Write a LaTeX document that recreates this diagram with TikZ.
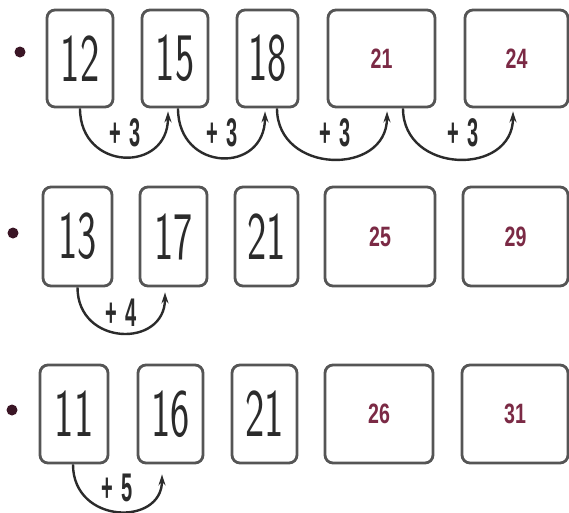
\documentclass[tikz,border=0pt]{standalone}
\usepackage{fontspec}
\newfontfamily\arial{Liberation Sans}
\usetikzlibrary{arrows.meta}
\definecolor{boxgray}{HTML}{555555}
\definecolor{ink}{HTML}{2B2B2B}
\definecolor{ansred}{HTML}{7B2A45}
\definecolor{dotc}{HTML}{3A1525}
\tikzset{
  box/.style={draw=boxgray, line width=2.8pt, rounded corners=8pt, inner sep=0pt, fill=white},
  hand/.style={font=\fontsize{68}{68}\selectfont\sffamily, text=ink},
  ans/.style={font=\fontsize{28}{28}\selectfont\arial\bfseries, text=ansred},
  hop/.style={-{Stealth[length=11pt,width=7pt]}, line width=2.4pt, draw=ink},
  hoplab/.style={font=\fontsize{40}{40}\selectfont\arial\bfseries, text=ink},
  bullet/.style={circle, fill=dotc, minimum size=11pt, inner sep=0pt}
}
\newcommand{\hw}[1]{\scalebox{0.6}[1]{#1}}
\newcommand{\aw}[1]{\scalebox{0.7}[1]{#1}}
\newcommand{\lw}[1]{\scalebox{0.5}[1]{#1}}
\begin{document}
\begin{tikzpicture}[x=1pt,y=-1pt]
\useasboundingbox[fill=white] (0,0) rectangle (569,512);
% bullets
\node[bullet] (d1) at (20,52) {};
\node[bullet] (d2) at (13,233) {};
\node[bullet] (d3) at (12,410) {};
% row 1
\node[box, hand, minimum width=66pt, minimum height=97pt] (a1) at (80,58.5) {\hw{12}};
\node[box, hand, minimum width=66pt, minimum height=97pt] (a2) at (175,58.5) {\hw{15}};
\node[box, hand, minimum width=61pt, minimum height=97pt] (a3) at (267.5,58.5) {\hw{18}};
\node[box, ans, minimum width=107pt, minimum height=97pt] (a4) at (381.5,58.5) {\aw{21}};
\node[box, ans, minimum width=103pt, minimum height=97pt] (a5) at (516.5,58.5) {\aw{24}};
% row 2
\node[box, hand, minimum width=69pt, minimum height=99pt] (b1) at (77.5,236.5) {\hw{13}};
\node[box, hand, minimum width=67pt, minimum height=99pt] (b2) at (173.5,236.5) {\hw{17}};
\node[box, hand, minimum width=63pt, minimum height=99pt] (b3) at (266.5,236.5) {\hw{21}};
\node[box, ans, minimum width=110pt, minimum height=99pt] (b4) at (380,236.5) {\aw{25}};
\node[box, ans, minimum width=105pt, minimum height=99pt] (b5) at (515.5,236.5) {\aw{29}};
% row 3
\node[box, hand, minimum width=68pt, minimum height=98pt] (c1) at (74,414) {\hw{11}};
\node[box, hand, minimum width=65pt, minimum height=98pt] (c2) at (170.5,414) {\hw{16}};
\node[box, hand, minimum width=65pt, minimum height=98pt] (c3) at (264.5,414) {\hw{21}};
\node[box, ans, minimum width=108pt, minimum height=98pt] (c4) at (379,414) {\aw{26}};
\node[box, ans, minimum width=106pt, minimum height=98pt] (c5) at (515,414) {\aw{31}};
% hops row 1
\draw[hop] (a1.south) .. controls +(0,63) and +(0,62) .. ([xshift=-7pt,yshift=-3pt]a2.south);
\draw[hop] ([xshift=3pt]a2.south) .. controls +(0,64) and +(0,63) .. ([xshift=-2.5pt,yshift=-3pt]a3.south);
\draw[hop] ([xshift=9.5pt]a3.south) .. controls +(0,66) and +(0,65) .. ([xshift=5.5pt,yshift=-3pt]a4.south);
\draw[hop] ([xshift=21.5pt]a4.south) .. controls +(0,66) and +(0,65) .. ([xshift=-3.5pt,yshift=-3pt]a5.south);
\node[hoplab] (l1) at (125,133) {\lw{+\;\,3}};
\node[hoplab] (l2) at (222,133) {\lw{+\;\,3}};
\node[hoplab] (l3) at (335,133) {\lw{+\;\,3}};
\node[hoplab] (l4) at (463,133) {\lw{+\;\,3}};
% hop row 2
\draw[hop] (b1.south) .. controls +(0,59) and +(0,56) .. ([xshift=-8.5pt,yshift=-5pt]b2.south);
\node[hoplab] (l5) at (121,313) {\lw{+\;\,4}};
% hop row 3
\draw[hop] ([xshift=-1pt]c1.south) .. controls +(0,60) and +(0,52) .. ([xshift=-8.5pt,yshift=-10pt]c2.south);
\node[hoplab] (l6) at (117,488) {\lw{+\;\,5}};
\end{tikzpicture}
\end{document}
